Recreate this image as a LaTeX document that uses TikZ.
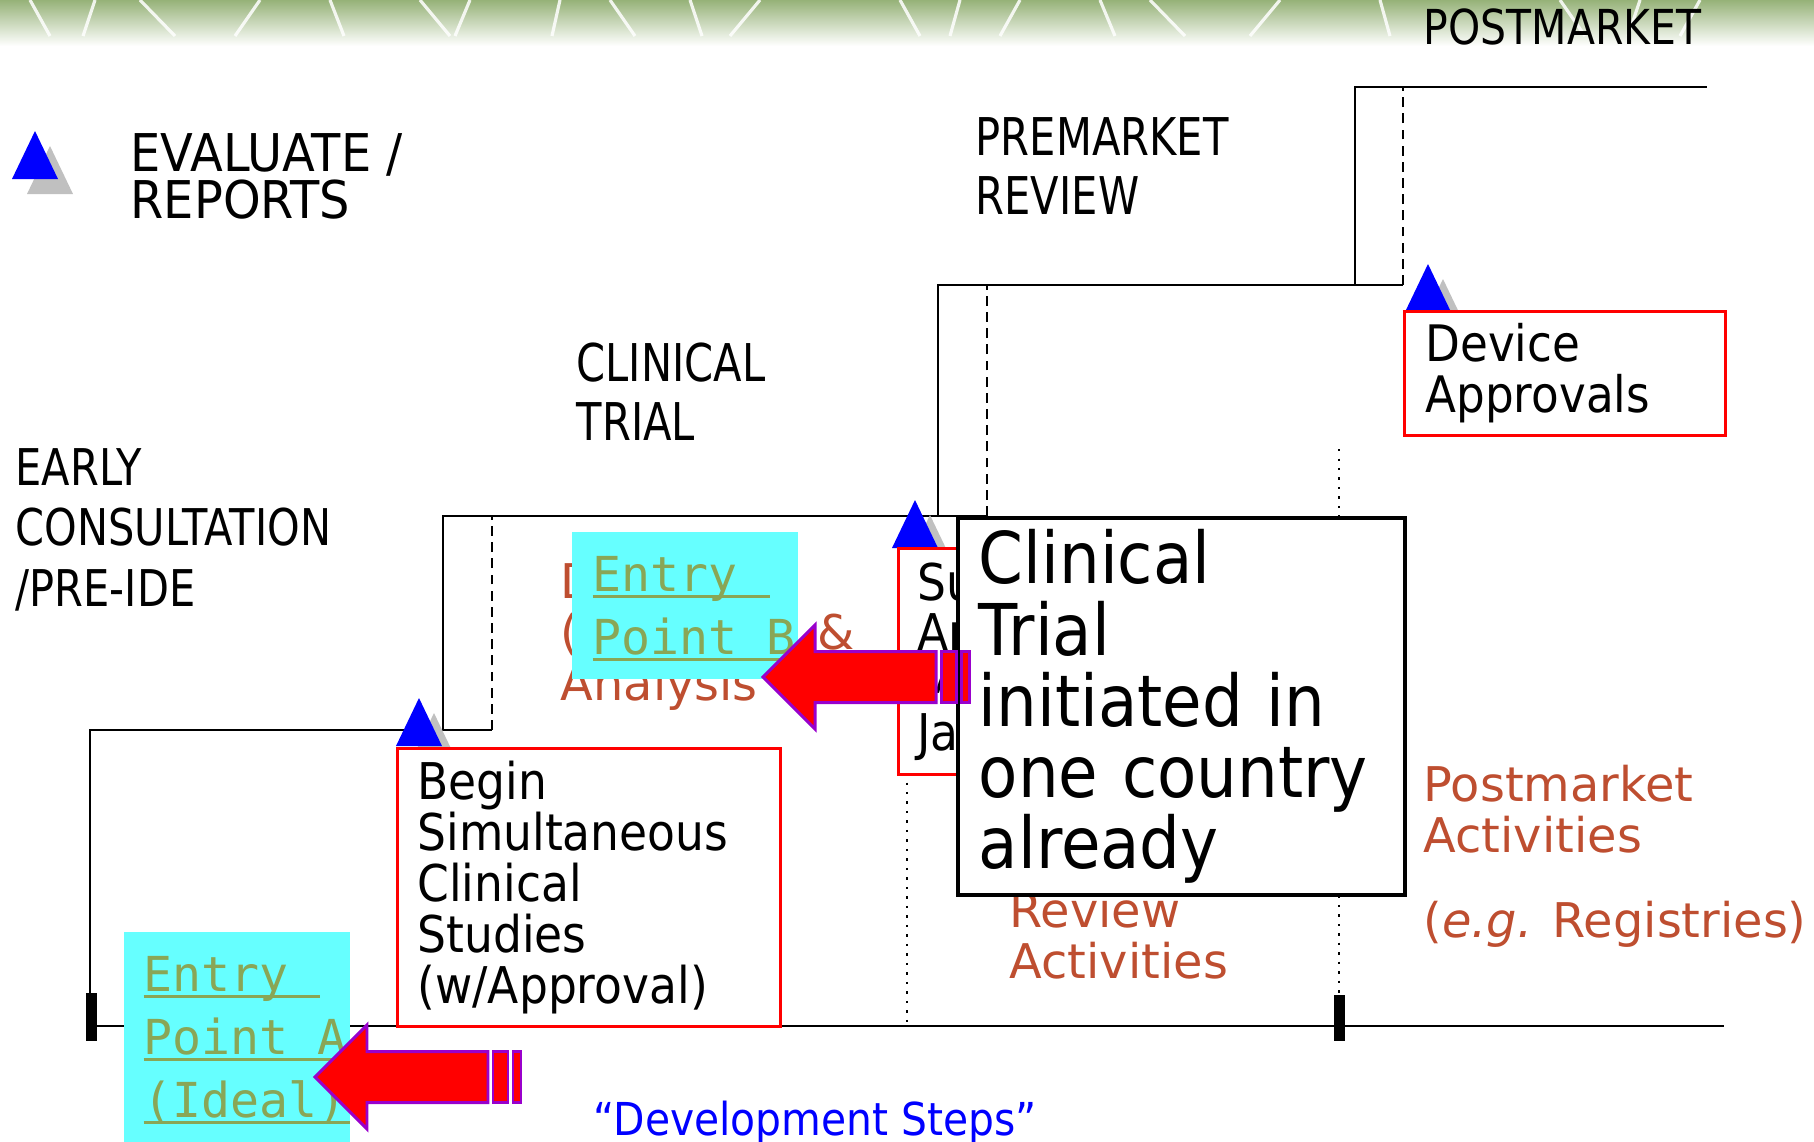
\documentclass[tikz,border=0pt]{standalone}
\usepackage{fontspec}
\setmainfont{DejaVu Sans}[FakeStretch=0.9]
\newfontfamily\lblfont{DejaVu Sans}[FakeStretch=0.82]
\newfontfamily\premfont{DejaVu Sans}[FakeStretch=0.80]
\newfontfamily\evalfont{DejaVu Sans}[FakeStretch=0.92]
\newfontfamily\postfont{DejaVu Sans}[FakeStretch=0.85]
\newfontfamily\widefont{DejaVu Sans}
\newfontfamily\entryfont{DejaVu Sans Mono}

\definecolor{evblue}{RGB}{0,0,255}
\definecolor{evshadow}{RGB}{192,192,192}
\definecolor{rust}{RGB}{190,78,48}
\definecolor{entrycyan}{RGB}{102,255,255}
\definecolor{entrygreen}{RGB}{137,166,86}
\definecolor{arrowpurple}{RGB}{153,0,204}
\definecolor{banner}{RGB}{150,178,120}

% blue "evaluate" marker with its grey shadow, apex at (#1,#2)
\newcommand\evmark[2]{%
  \fill[evshadow] ({#1+15},{#2+15}) -- ++(-23,48) -- ++(46,0) -- cycle;
  \fill[evblue] (#1,#2) -- ++(-23,48) -- ++(46,0) -- cycle;}
% fat red arrow pointing left, tip at (#1,#2)
\newcommand\fatarrow[2]{%
  \filldraw[bigarrow] (#1,#2) -- ++(52,-52) -- ++(0,26.5) -- ++(121,0) -- ++(0,51)
    -- ++(-121,0) -- ++(0,26.5) -- cycle;
  \filldraw[bigarrow] ({#1+178},{#2-25.5}) rectangle ++(15,51);
  \filldraw[bigarrow] ({#1+198},{#2-25.5}) rectangle ++(8,51);}
% underline close to the baseline
\newcommand\ulbox[2]{\rlap{\rule[-1.9pt]{#1}{0.85pt}}#2}

\begin{document}
\begin{tikzpicture}[x=0.01cm,y=-0.01cm,
  stair/.style={line width=0.7pt},
  stepdash/.style={line width=0.7pt,dash pattern=on 2.8pt off 1.8pt},
  stepdot/.style={line width=0.7pt,dotted},
  steplbl/.style 2 args={font=\lblfont\fontsize{#1}{#2}\selectfont,inner sep=0pt,align=left,anchor=base west},
  rusttxt/.style={text=rust,font=\widefont\fontsize{13.6pt}{14.4pt}\selectfont,inner sep=0pt,align=left,anchor=base west},
  redbox/.style={draw=red,line width=0.85pt,fill=white,anchor=north west,inner ysep=0pt,align=left},
  entrybox/.style={fill=entrycyan,anchor=north west,inner sep=0pt},
  entrytxt/.style={text=entrygreen,font=\entryfont\fontsize{13.7pt}{17.9pt}\selectfont,inner sep=0pt,align=left,anchor=base west},
  bigarrow/.style={fill=red,draw=arrowpurple,line width=0.85pt,line join=miter}]
\useasboundingbox (0,0) rectangle (1814,1142);

% banner
\shade[top color=banner,bottom color=white] (0,0) rectangle (1814,46);
\foreach \s/\d in {30/20,95/-12,140/35,260/-25,330/14,420/30,470/-15,560/-8,610/25,690/12,760/-30,900/20,960/-10,1020/-20,1100/15,1150/35,1280/-30,1380/10,1560/25,1640/-12,1700/-20}
  \draw[white,line width=0.9pt,opacity=0.85] (\s,0) -- ++(\d,36);

% development steps
\draw[stair] (90,1026) -- (1724,1026);
\draw[stair] (90,1026) -- (90,730) -- (492,730);
\draw[stair] (443,730) -- (443,516) -- (987,516);
\draw[stair] (938,516) -- (938,285) -- (1403,285);
\draw[stair] (1355,285) -- (1355,87) -- (1707,87);
\draw[stepdash] (492,730) -- (492,516);
\draw[stepdash] (987,516) -- (987,285);
\draw[stepdash] (1403,285) -- (1403,87);
\draw[stepdot] (907,773) -- (907,1026);
\draw[stepdot] (1339,449) -- (1339,1026);
\fill (86,993) rectangle (97,1041);
\fill (1334,995) rectangle (1345,1041);

% markers
\evmark{35}{131}
\evmark{419}{698}
\evmark{915}{500}
\evmark{1428}{264}

% labels
\node[steplbl={13.7pt}{14pt},font=\postfont\fontsize{13.7pt}{14pt}\selectfont] (postlbl) at (1423,44) {POSTMARKET};
\node[steplbl={14.8pt}{12.3pt},font=\evalfont\fontsize{14.8pt}{12.3pt}\selectfont] (evallbl) at (130,218) {EVALUATE /\\REPORTS};
\node[steplbl={14.8pt}{16.5pt},font=\premfont\fontsize{14.8pt}{16.5pt}\selectfont] (premlbl) at (975,214) {PREMARKET\\REVIEW};
\node[steplbl={14.8pt}{16.5pt},font=\premfont\fontsize{14.8pt}{16.5pt}\selectfont] (cliniclbl) at (576,440) {CLINICAL\\TRIAL};
\node[steplbl={14.4pt}{17.1pt}] (earlylbl) at (15,606) {EARLY\\CONSULTATION\\/PRE-IDE};

% activities
\node[rusttxt] (datatxt) at (560,700) {D\\\makebox[2.57cm][l]{(}\&\\Analysis};
\node[rusttxt] (reviewtxt) at (1009,978) {Review\\Activities};
\node[rusttxt] (posttxt) at (1423,937) {Postmarket\\Activities\\[9.7pt](\textit{e.g.} Registries)};

% boxes
\node[redbox,text width=2.6cm,inner xsep=0.19cm,minimum height=2.26cm,
  font=\fontsize{14.4pt}{14.2pt}\selectfont] (subox) at (897,547) {Su\\Ar\\M\\Ja};
\node[entrybox,minimum width=2.26cm,minimum height=1.47cm] (entB) at (571,531) {};
\node[entrytxt] (entBtxt) at (592,654) {\ulbox{1.77cm}{Entry}\\\ulbox{2.06cm}{Point B}};
\node[redbox,draw=black,line width=1pt,text width=4.05cm,inner xsep=0.21cm,minimum height=3.77cm,
  font=\fontsize{20.3pt}{20.2pt}\selectfont] (trialbox) at (956,516)
  {Clinical\\Trial\\initiated in\\one country\\already};
\fatarrow{763}{677}
\node[redbox,text width=3.43cm,inner xsep=0.2cm,minimum height=2.78cm,
  font=\fontsize{14.4pt}{14.5pt}\selectfont] (beginbox) at (396,747)
  {Begin\\Simultaneous\\Clinical\\Studies\\(w/Approval)};
\node[redbox,text width=2.79cm,inner xsep=0.21cm,minimum height=1.24cm,
  font=\fontsize{14.3pt}{14.5pt}\selectfont] (devbox) at (1403,310) {Device\\Approvals};
\node[entrybox,minimum width=2.26cm,minimum height=2.11cm] (entA) at (123,931) {};
\node[entrytxt] (entAtxt) at (143,1117) {\ulbox{1.76cm}{Entry}\\\ulbox{2.06cm}{Point A}\\\ulbox{2.06cm}{(Ideal)}};
\fatarrow{315}{1077}

\node[text=evblue,font=\fontsize{12.9pt}{14pt}\selectfont,inner sep=0pt,anchor=base west] (devsteps)
  at (593,1135) {“Development Steps”};
\end{tikzpicture}
\end{document}
